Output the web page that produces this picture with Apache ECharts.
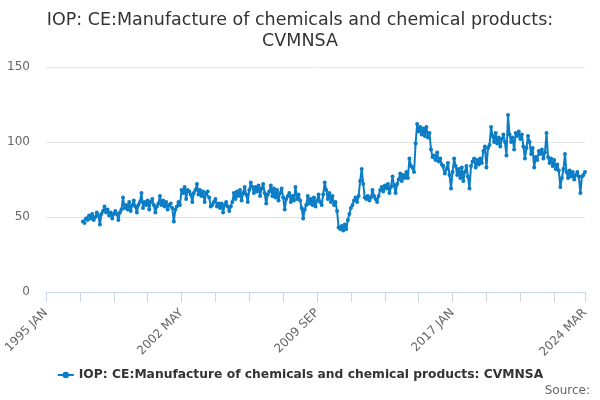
<!DOCTYPE html>
<html>
<head>
<meta charset="utf-8">
<script src="https://cdn.jsdelivr.net/npm/echarts@6/dist/echarts.min.js"></script>
<style>
  html, body { margin: 0; padding: 0; background: #fff; }
  #main { width: 600px; height: 400px; }
</style>
</head>
<body>
<div id="main"></div>
<script>
var MONTHS = ['JAN', 'FEB', 'MAR', 'APR', 'MAY', 'JUN', 'JUL', 'AUG', 'SEP', 'OCT', 'NOV', 'DEC'];
var firstYear = 1995, lastYear = 2024, lastMonth = 3;
var seriesName = 'IOP: CE:Manufacture of chemicals and chemical products: CVMNSA';
var yTicks = [0, 50, 100, 150];

// monthly values, 1997 JAN .. 2024 MAR
var values = [
  47, 46, 49, 48, 51, 49, 52, 48, 50, 53, 51, 45,      // 1997
  52, 54, 57, 53, 55, 51, 53, 49, 52, 54, 52, 48,      // 1998
  53, 55, 63, 56, 58, 55, 60, 54, 58, 61, 57, 53,      // 1999
  58, 60, 66, 56, 60, 58, 61, 55, 60, 62, 58, 53,      // 2000
  57, 59, 64, 58, 61, 57, 60, 55, 58, 59, 56, 47,      // 2001
  55, 57, 60, 58, 68, 66, 70, 62, 68, 67, 65, 60,      // 2002
  66, 68, 72, 65, 68, 64, 67, 60, 66, 67, 63, 57,      // 2003
  58, 60, 62, 57, 59, 56, 59, 53, 58, 60, 57, 54,      // 2004
  57, 60, 66, 62, 67, 64, 68, 61, 66, 70, 65, 60,      // 2005
  68, 73, 70, 66, 70, 67, 71, 64, 69, 72, 66, 59,      // 2006
  65, 67, 71, 64, 69, 63, 68, 61, 66, 69, 63, 55,      // 2007
  62, 64, 66, 60, 64, 61, 70, 62, 65, 61, 56, 49,      // 2008
  55, 58, 64, 59, 62, 58, 63, 57, 61, 65, 60, 58,      // 2009
  65, 73, 68, 62, 66, 60, 64, 58, 60, 54, 43, 42,      // 2010
  44, 41, 45, 42, 48, 52, 56, 58, 61, 63, 60, 64,      // 2011
  74, 82, 72, 63, 62, 64, 61, 63, 68, 64, 62, 60,      // 2012
  64, 68, 70, 67, 71, 69, 72, 66, 70, 77, 71, 66,      // 2013
  72, 75, 79, 74, 78, 76, 80, 76, 89, 84, 83, 80,      // 2014
  99, 112, 107, 110, 105, 109, 104, 110, 103, 106, 95, 90, // 2015
  91, 88, 93, 87, 89, 85, 84, 79, 82, 86, 78, 69,      // 2016
  80, 89, 84, 78, 82, 76, 83, 74, 80, 84, 77, 69,      // 2017
  84, 87, 89, 83, 88, 85, 89, 86, 94, 97, 83, 96,      // 2018
  98, 110, 104, 100, 106, 99, 103, 97, 102, 105, 100, 91, // 2019
  118, 105, 100, 103, 95, 106, 104, 107, 102, 105, 97, 89, // 2020
  96, 104, 100, 92, 96, 83, 90, 88, 94, 92, 95, 89,    // 2021
  93, 106, 90, 86, 89, 84, 88, 82, 85, 81, 70, 76,     // 2022
  82, 92, 80, 76, 81, 77, 80, 75, 78, 80, 77, 66,      // 2023
  77, 78, 80                                           // 2024
];
var dataStartYear = 1997;

var categories = [];
for (var y = firstYear; y <= lastYear; y++) {
  for (var m = 0; m < 12; m++) {
    if (y === lastYear && m >= lastMonth) break;
    categories.push(y + ' ' + MONTHS[m]);
  }
}
var offset = (dataStartYear - firstYear) * 12;
var seriesData = categories.map(function (c, i) {
  var v = values[i - offset];
  return v === undefined ? '-' : v;
});
var lastIdx = categories.length - 1;

var myChart = echarts.init(document.getElementById('main'));
var font = 'DejaVu Sans';

var option = {
  animation: false,
  title: {
    text: 'IOP: CE:Manufacture of chemicals and chemical products:\nCVMNSA',
    left: 'center',
    top: 5,
    textStyle: { fontFamily: font, fontSize: 17.5, fontWeight: 'normal', color: '#333333', lineHeight: 21 }
  },
  legend: {
    data: [seriesName],
    bottom: 14,
    left: 'center',
    itemWidth: 16,
    itemHeight: 8,
    itemGap: 5,
    textStyle: { fontFamily: font, fontSize: 12.3, fontWeight: 'bold', color: '#333333' }
  },
  grid: { left: 46, right: 15, top: 67, bottom: 108 },
  xAxis: {
    type: 'category',
    data: categories,
    boundaryGap: false,
    axisLine: { lineStyle: { color: '#ccd6eb' } },
    axisTick: {
      length: 10,
      lineStyle: { color: '#ccd6eb' },
      interval: function (i) { return i % 22 === 0 || i === lastIdx; }
    },
    axisLabel: {
      rotate: 45,
      color: '#666666',
      fontFamily: font,
      fontSize: 12,
      margin: 19,
      interval: function (i) { return i % 88 === 0 || i === lastIdx; }
    },
    splitLine: { show: false }
  },
  yAxis: {
    type: 'value',
    min: yTicks[0],
    max: yTicks[yTicks.length - 1],
    interval: 50,
    axisLine: { show: false },
    axisTick: { show: false },
    axisLabel: { color: '#666666', fontFamily: font, fontSize: 12, margin: 16 },
    splitLine: { lineStyle: { color: '#e6e6e6' } }
  },
  series: [{
    name: seriesName,
    type: 'line',
    data: seriesData,
    color: '#0b7dc6',
    symbol: 'circle',
    symbolSize: 4,
    showAllSymbol: true,
    lineStyle: { width: 2 }
  }],
  graphic: [{
    type: 'text',
    right: 10,
    bottom: 3,
    style: { text: 'Source:', fill: '#666666', font: '12px "DejaVu Sans"' }
  }]
};

myChart.setOption(option);
</script>
</body>
</html>
